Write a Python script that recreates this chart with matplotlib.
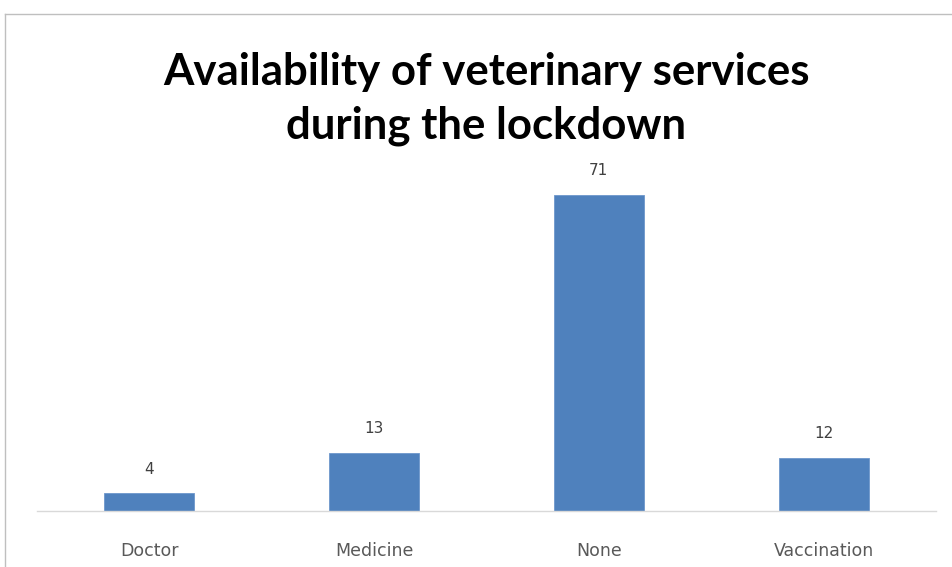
import matplotlib.pyplot as plt
from matplotlib.lines import Line2D

# Data
categories = ["Doctor", "Medicine", "None", "Vaccination"]
counts = [4, 13, 71, 12]
title = "Availability of veterinary services\nduring the lockdown"

W, H = 952, 567
fig = plt.figure(figsize=(W / 100, H / 100), dpi=100)

# axes placed in pixel terms
left, right, bottom, top = 37, 936, 511, 155
ax = fig.add_axes([left / W, 1 - bottom / H, (right - left) / W, (bottom - top) / H])

bars = ax.bar(categories, counts, width=0.4, color="#4F81BD", edgecolor="#6D97CC", linewidth=0.6)
ax.bar_label(bars, padding=12, fontsize=11, color="#404040")

ax.set_ylim(0, 80)
ax.set_xlim(-0.5, len(categories) - 0.5)
for s in ["top", "right", "left"]:
    ax.spines[s].set_visible(False)
ax.spines["bottom"].set_color("#D9D9D9")
ax.spines["bottom"].set_linewidth(1)
ax.set_yticks([])
ax.tick_params(axis="x", length=0, pad=22, labelsize=12.5, labelcolor="#595959")

# title
fig.text(486 / W, 1 - 99 / H, title, ha="center", va="center", fontsize=31.5,
         fontweight="bold", family="Lato", linespacing=1.4, color="black")

# chart border (top and left visible)
fig.add_artist(Line2D([5 / W, 1], [1 - 14 / H, 1 - 14 / H], transform=fig.transFigure, color="#BFBFBF", lw=1))
fig.add_artist(Line2D([5 / W, 5 / W], [0, 1 - 14 / H], transform=fig.transFigure, color="#BFBFBF", lw=1))

fig.savefig("out.png", dpi=100)
